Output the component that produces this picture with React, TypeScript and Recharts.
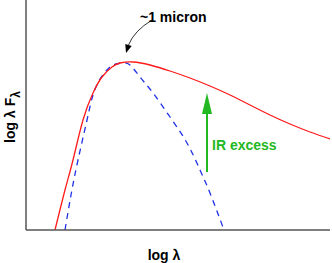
import { LineChart, Line, XAxis, YAxis, ReferenceLine } from 'recharts';

// arbitrary log units
const observedX = [29, 39, 47, 57, 67, 76, 86, 94, 107, 124, 144, 164, 184, 204, 224, 244, 264, 284, 304];
const observedY = [0, 40, 70, 110, 137, 153, 163, 167, 168, 165, 159, 152, 144, 135, 125, 115, 106, 98, 91];

const photoX = [39, 45, 52, 61, 67, 74, 81, 87, 96, 104, 114, 127, 144, 161, 174, 184, 198];
const photoY = [0, 35, 70, 110, 135, 151, 160, 165, 167, 165, 153, 137, 113, 87, 60, 37, 0];

const excessX = 181;
const excessFrom = 58;
const excessTo = 137;

const observed = observedX.map((x, i) => ({ x, y: observedY[i] }));
const photosphere = photoX.map((x, i) => ({ x, y: photoY[i] }));

const GREEN = '#22b822';
const FONT = 'Liberation Sans, Arial, sans-serif';

const ArrowUp = (props: any) => {
  const { x1, y1, y2 } = props;
  const top = Math.min(y1, y2);
  const bottom = Math.max(y1, y2);
  return (
    <g>
      <line x1={x1} y1={bottom} x2={x1} y2={top + 18} stroke={GREEN} strokeWidth={2} />
      <path d={`M${x1 - 5},${top + 21} L${x1},${top} L${x1 + 5},${top + 21} Z`} fill={GREEN} />
    </g>
  );
};

export default function App() {
  return (
    <div style={{ width: 332, height: 263 }}>
      <style>{`body{margin:0}`}</style>
      <LineChart width={332} height={263} margin={{ top: 0, right: 2, left: 6, bottom: 13 }}>
        <XAxis
          type="number"
          dataKey="x"
          domain={[0, 304]}
          tick={false}
          tickLine={false}
          height={20}
          axisLine={{ stroke: '#555', strokeWidth: 1.5 }}
          allowDataOverflow
        />
        <YAxis
          type="number"
          dataKey="y"
          domain={[0, 230]}
          tick={false}
          tickLine={false}
          width={20}
          axisLine={{ stroke: '#555', strokeWidth: 1.5 }}
          allowDataOverflow
        />
        <Line
          data={photosphere}
          dataKey="y"
          type="natural"
          stroke="#1f2fe8"
          strokeWidth={1.3}
          strokeDasharray="6 5"
          dot={false}
          isAnimationActive={false}
        />
        <Line
          data={observed}
          dataKey="y"
          type="natural"
          stroke="#ff1a1a"
          strokeWidth={1.3}
          dot={false}
          isAnimationActive={false}
        />
        <ReferenceLine
          segment={[{ x: excessX, y: excessFrom }, { x: excessX, y: excessTo }]}
          shape={ArrowUp}
        />
        <text x={212} y={150} fill={GREEN} fontFamily={FONT} fontWeight="bold" fontSize={14}>
          IR excess
        </text>
        <text x={140} y={22} fill="#000" fontFamily={FONT} fontWeight="bold" fontSize={14}>
          ~1 micron
        </text>
        <path d="M152,20 Q134,31 128.5,45" stroke="#000" strokeWidth={0.8} fill="none" />
        <path d="M126,53 L125.3,44 L131.7,46 Z" fill="#000" />
        <text
          transform="translate(15,117) rotate(-90)"
          textAnchor="middle"
          fill="#000"
          fontFamily={FONT}
          fontWeight="bold"
          fontSize={14}
        >
          log λ F<tspan dy={5} fontSize={12}>λ</tspan>
        </text>
        <text x={164} y={260} textAnchor="middle" fill="#000" fontFamily={FONT} fontWeight="bold" fontSize={14}>
          log  λ
        </text>
      </LineChart>
    </div>
  );
}
